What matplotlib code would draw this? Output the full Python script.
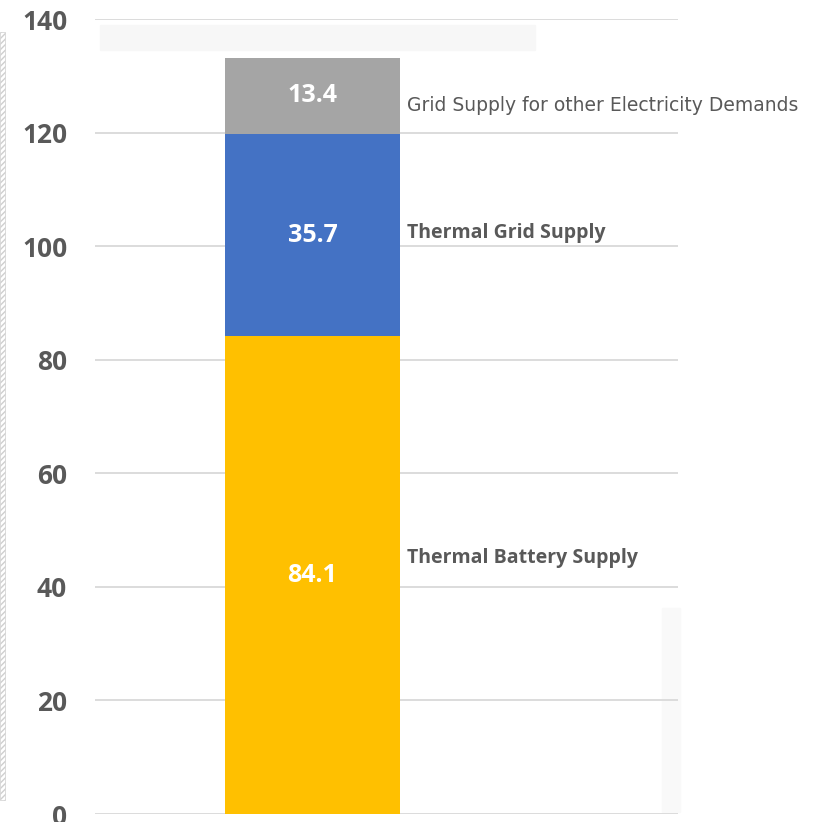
import matplotlib
matplotlib.use("Agg")
import matplotlib.pyplot as plt
from matplotlib.patches import Rectangle

# Stacked supply components (bottom to top)
segments = ["Thermal Battery Supply", "Thermal Grid Supply",
            "Grid Supply for other Electricity Demands"]
values = [84.1, 35.7, 13.4]
colors = ["#FFC000", "#4472C4", "#A5A5A5"]
label_bold = [True, True, False]
y_ticks = [0, 20, 40, 60, 80, 100, 120, 140]

W, H = 829, 822
fig = plt.figure(figsize=(W / 100, H / 100), dpi=100)
fig.patch.set_facecolor("white")

# axes placed in pixel terms: x 95..678, y(0)=814, y(140)=19
left, right = 95 / W, 678 / W
bottom, top = (H - 814) / H, (H - 19) / H
ax = fig.add_axes([left, bottom, right - left, top - bottom])
ax.set_xlim(0, 1)
ax.set_ylim(0, 140)

for y in y_ticks:
    ax.axhline(y, color="#D9D9D9", lw=1.3, zorder=0)

bar_x0 = (225 - 95) / (678 - 95)
bar_w = (400 - 225) / (678 - 95)
bottom_val = 0.0
for name, v, c, b in zip(segments, values, colors, label_bold):
    ax.bar(bar_x0, v, width=bar_w, bottom=bottom_val, align="edge",
           color=c, edgecolor="none", zorder=2)
    ax.text(bar_x0 + bar_w / 2, bottom_val + v / 2, f"{v:.1f}",
            ha="center", va="center", color="white", fontsize=18,
            fontweight="bold", family="Open Sans", zorder=3)
    bottom_val += v

# segment names to the right of the bar
label_y = [45.0, 102.3, 124.8]
label_font = ["Open Sans", "Open Sans", "DejaVu Sans"]
label_size = [14, 14, 13.5]
for name, ly, b, fam, sz in zip(segments, label_y, label_bold,
                                label_font, label_size):
    ax.text(bar_x0 + bar_w + 0.012, ly, name, ha="left", va="center",
            color="#595959", fontsize=sz,
            fontweight="bold" if b else "normal", family=fam,
            zorder=3)

ax.set_yticks(y_ticks)
ax.set_yticklabels([str(t) for t in y_ticks])
ax.tick_params(axis="y", length=0, pad=20, labelsize=19, labelcolor="#595959")
for lab in ax.get_yticklabels():
    lab.set_fontweight("bold")
    lab.set_family("Open Sans")
ax.set_xticks([])
for s in ax.spines.values():
    s.set_visible(False)
ax.patch.set_alpha(0)

# faint panel edges
fig.patches.append(Rectangle((100 / W, (H - 50) / H), 435 / W, 25 / H,
                             transform=fig.transFigure, color="#F7F7F7",
                             zorder=-1))
fig.patches.append(Rectangle((662 / W, (H - 812) / H), 18 / W, 204 / H,
                             transform=fig.transFigure, color="#F9F9F9",
                             zorder=-1))
fig.patches.append(Rectangle((0, (H - 800) / H), 5 / W, 768 / H,
                             transform=fig.transFigure, facecolor="white",
                             edgecolor="#CFCFCF", hatch="//////", lw=0.5,
                             zorder=-1))

fig.savefig("out.png", dpi=100, facecolor="white")
